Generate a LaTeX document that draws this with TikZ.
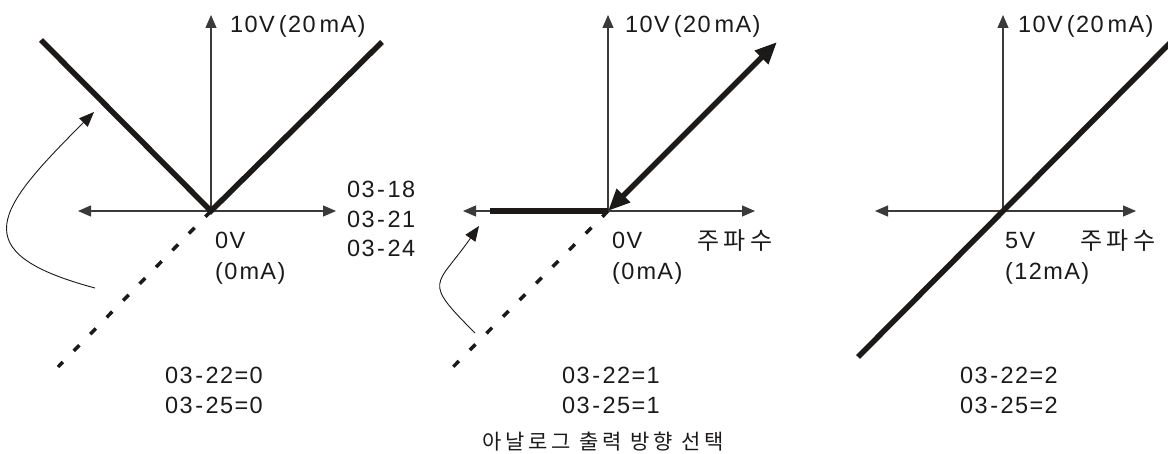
\documentclass[tikz,border=0pt]{standalone}
\usepackage{fontspec}
\setmainfont{Liberation Sans}[LetterSpace=6]
\newfontfamily\kor{Noto Sans CJK KR}[LetterSpace=18]
\usepackage{tikz}
\usetikzlibrary{positioning,arrows.meta}
\definecolor{axgray}{HTML}{3A3A3A}
\definecolor{inkblk}{HTML}{1C1A19}
\newcommand{\hy}{\kern2.5pt-\kern2.5pt}

\begin{document}
\begin{tikzpicture}[x=1pt,y=1pt,font=\fontsize{23.5}{28}\selectfont,>={Triangle[length=13pt,width=11pt]},text=inkblk]
  \tikzstyle{axis}=[axgray,line width=1.1pt]
  \tikzstyle{curve}=[inkblk,line width=5.5pt]
  \tikzstyle{neg}=[inkblk,line width=3.5pt,dash pattern=on 8pt off 15.5pt]
  \tikzstyle{turn}=[inkblk,line width=0.9pt,-{Triangle[length=15pt,width=12pt]}]
  \tikzstyle{lbl}=[inner sep=0pt,anchor=base west]
  \tikzstyle{hangul}=[inner sep=0pt,font=\kor\fontsize{24}{28}\selectfont]
  \useasboundingbox (0,0) rectangle (1168,453);
  % mode 0: absolute value
  \coordinate (o1) at (211,242);
  \coordinate (t1) at (211,438);
  \coordinate (l1) at (78,242);
  \coordinate (r1) at (336,242);
  \coordinate (vl1) at (41,413);
  \coordinate (vr1) at (382,411);
  \coordinate (d1) at (58,86);
  \coordinate (cs1) at (95,165);
  \coordinate (ce1) at (94,341);
  \draw[axis,->] (o1) -- (t1);
  \draw[axis,<->] (l1) -- (r1);
  \draw[curve] (vl1) -- (o1) -- (vr1);
  \draw[neg] (o1) -- (d1);
  \draw[turn] (cs1) to[out=165,in=225,looseness=2] (ce1);
  \node[lbl] (top1) at (230,420) {10V\kern4pt(20\kern4pt mA)};
  \node[lbl] (zv1) at (215,204) {0V};
  \node[lbl] (zm1) at (215,173) {(0\kern2pt mA)};
  \node[lbl] (p18) at (347,255) {03\hy18};
  \node[lbl] (p21) at (347,225) {03\hy21};
  \node[lbl] (p24) at (347,196) {03\hy24};
  \node[inner sep=0pt,anchor=base] (s1a) at (214,70) {03\hy22=0};
  \node[inner sep=0pt,anchor=base] (s1b) at (214,40) {03\hy25=0};
  % mode 1: clamp negative to zero
  \coordinate (o2) at (608,242);
  \coordinate (t2) at (608,438);
  \coordinate (l2) at (463,242);
  \coordinate (r2) at (755,242);
  \coordinate (h2) at (490,242);
  \coordinate (u2) at (777,411);
  \coordinate (d2) at (452,85);
  \coordinate (cs2) at (475,120);
  \coordinate (ce2) at (479,227);
  \draw[axis,->] (o2) -- (t2);
  \draw[axis,<->] (l2) -- (r2);
  \draw[curve] (h2) -- (o2);
  \draw[curve,{Triangle[length=22pt,width=18pt]}-{Triangle[length=22pt,width=18pt]}] (o2) -- (u2);
  \draw[neg] (o2) -- (d2);
  \draw[turn] (cs2) to[out=135,in=235,looseness=1.8] (ce2);
  \node[lbl] (top2) at (625,420) {10V\kern4pt(20\kern4pt mA)};
  \node[lbl] (zv2) at (612,204) {0V};
  \node[lbl] (zm2) at (612,173) {(0\kern2pt mA)};
  \node[hangul,anchor=west] (f2) at (697,212) {주파수};
  \node[inner sep=0pt,anchor=base] (s2a) at (611,70) {03\hy22=1};
  \node[inner sep=0pt,anchor=base] (s2b) at (611,40) {03\hy25=1};
  % mode 2: offset at 5V
  \coordinate (o3) at (1003,242);
  \coordinate (t3) at (1003,438);
  \coordinate (l3) at (875,242);
  \coordinate (r3) at (1136,242);
  \coordinate (a3) at (858,96);
  \coordinate (b3) at (1172,412);
  \draw[axis,->] (o3) -- (t3);
  \draw[axis,<->] (l3) -- (r3);
  \draw[curve] (a3) -- (b3);
  \node[lbl] (top3) at (1018,420) {10V\kern4pt(20\kern4pt mA)};
  \node[lbl] (zv3) at (1005,204) {5V};
  \node[lbl] (zm3) at (1005,173) {(12mA)};
  \node[hangul,anchor=west] (f3) at (1080,212) {주파수};
  \node[inner sep=0pt,anchor=base] (s3a) at (1009,70) {03\hy22=2};
  \node[inner sep=0pt,anchor=base] (s3b) at (1009,40) {03\hy25=2};
  % caption
  \node[hangul,font=\kor\fontsize{21}{26}\selectfont] (cap) at (603,11) {아날로그 출력 방향 선택};
\end{tikzpicture}
\end{document}
